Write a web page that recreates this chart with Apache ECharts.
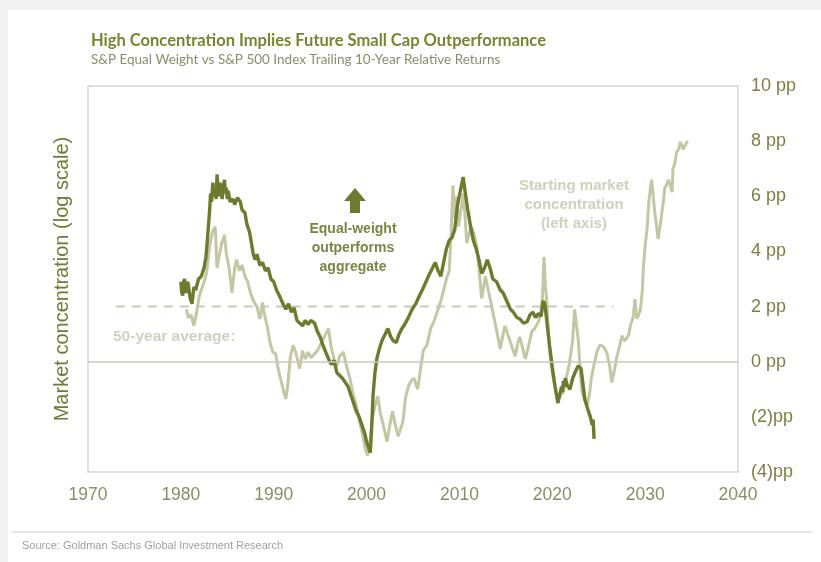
<!DOCTYPE html>
<html>
<head>
<meta charset="utf-8">
<script src="https://cdn.jsdelivr.net/npm/echarts@6/dist/echarts.min.js"></script>
<style>
  html, body { margin: 0; padding: 0; background: #f1f1f1; }
  #chart { width: 821px; height: 562px; }
</style>
</head>
<body>
<div id="chart"></div>
<script>
// S&P Equal Weight vs S&P 500 trailing 10-year relative return (pp)
const ewYears = [1980.0,1980.1,1980.2,1980.3,1980.4,1980.5,1980.6,1980.7,1980.8,1981.0,1981.2,1981.4,1981.6,1981.9,1982.2,1982.5,1982.7,1982.9,1983.1,1983.2,1983.3,1983.45,1983.55,1983.7,1983.8,1983.9,1984.0,1984.1,1984.2,1984.3,1984.45,1984.55,1984.7,1984.8,1984.9,1985.0,1985.1,1985.3,1985.6,1985.8,1986.1,1986.4,1986.6,1986.9,1987.1,1987.4,1987.6,1987.8,1988.0,1988.2,1988.5,1988.8,1989.1,1989.4,1989.7,1990.0,1990.3,1990.6,1991.0,1991.3,1991.6,1991.9,1992.2,1992.5,1992.8,1993.1,1993.4,1993.7,1994.0,1994.4,1994.7,1995.0,1995.3,1995.6,1995.9,1996.2,1996.5,1996.8,1997.1,1997.4,1997.7,1998.0,1998.3,1998.6,1998.9,1999.2,1999.5,1999.8,2000.0,2000.2,2000.4,2000.55,2000.7,2000.9,2001.1,2001.4,2001.7,2002.0,2002.3,2002.6,2002.9,2003.2,2003.5,2003.8,2004.1,2004.5,2004.9,2005.3,2005.7,2006.0,2006.4,2006.8,2007.1,2007.4,2007.7,2008.0,2008.3,2008.6,2008.9,2009.2,2009.5,2009.8,2010.1,2010.4,2010.6,2010.9,2011.2,2011.5,2011.8,2012.1,2012.4,2012.7,2013.0,2013.3,2013.6,2014.0,2014.4,2014.7,2015.1,2015.5,2015.8,2016.2,2016.5,2016.9,2017.3,2017.6,2017.9,2018.2,2018.5,2018.8,2019.0,2019.2,2019.4,2019.7,2020.0,2020.3,2020.6,2020.8,2021.0,2021.1,2021.2,2021.3,2021.4,2021.6,2021.9,2022.2,2022.5,2022.8,2023.1,2023.3,2023.5,2023.8,2024.1,2024.3,2024.4,2024.5];
const ewValues = [2.9,2.5,2.4,2.9,3.0,2.6,2.5,2.9,2.8,2.3,2.1,2.7,2.6,3.0,3.1,3.4,3.8,4.6,5.5,6.1,5.8,6.5,6.0,6.3,5.9,6.8,6.2,6.0,6.5,6.2,5.9,6.3,6.6,6.1,6.3,5.9,6.2,5.8,5.9,5.7,5.95,5.8,5.5,5.4,5.0,4.7,4.3,3.9,3.7,3.9,3.5,3.6,3.3,3.4,3.0,2.9,2.6,2.4,2.1,1.9,2.1,1.8,1.95,1.5,1.4,1.3,1.5,1.35,1.5,1.4,1.1,0.9,0.6,0.35,0.1,-0.1,0.05,-0.4,-0.5,-0.6,-0.75,-0.9,-1.2,-1.5,-1.8,-2.0,-2.3,-2.6,-2.9,-3.1,-3.3,-2.4,-1.2,-0.4,0.1,0.5,0.8,1.0,1.2,0.9,0.75,0.7,1.0,1.2,1.35,1.6,1.9,2.1,2.4,2.6,2.9,3.2,3.4,3.6,3.3,3.1,3.6,4.1,4.4,4.5,4.8,5.7,6.2,6.7,6.2,5.5,4.9,4.4,4.1,3.7,3.2,3.4,3.7,3.4,3.0,2.9,2.6,2.5,2.2,1.9,1.8,1.6,1.55,1.4,1.45,1.7,1.8,1.6,1.75,1.65,2.2,2.1,1.5,0.6,-0.2,-0.9,-1.5,-1.2,-0.9,-1.1,-0.7,-0.9,-0.6,-0.85,-1.0,-0.6,-0.35,-0.15,-0.25,-0.8,-1.35,-1.7,-2.0,-2.3,-2.1,-2.8];

// Starting market concentration, shifted forward ten years
const concYears = [1980.6,1980.8,1981.1,1981.4,1981.7,1982.0,1982.3,1982.6,1982.8,1983.1,1983.4,1983.7,1983.9,1984.1,1984.4,1984.7,1984.9,1985.2,1985.5,1985.8,1986.0,1986.3,1986.6,1986.9,1987.2,1987.5,1987.7,1988.0,1988.2,1988.5,1988.8,1989.0,1989.3,1989.6,1989.9,1990.2,1990.5,1990.8,1991.1,1991.3,1991.5,1991.8,1992.1,1992.4,1992.8,1993.1,1993.4,1993.7,1994.0,1994.3,1994.7,1995.0,1995.3,1995.6,1995.9,1996.2,1996.5,1996.8,1997.1,1997.5,1997.8,1998.2,1998.5,1998.9,1999.2,1999.6,1999.9,2000.1,2000.4,2000.6,2000.9,2001.2,2001.5,2001.8,2002.2,2002.5,2002.8,2003.1,2003.4,2003.7,2003.9,2004.2,2004.5,2004.8,2005.1,2005.5,2005.8,2006.1,2006.5,2006.9,2007.3,2007.6,2008.0,2008.3,2008.6,2008.9,2009.1,2009.3,2009.5,2009.7,2009.9,2010.2,2010.4,2010.6,2010.8,2011.0,2011.3,2011.6,2011.9,2012.2,2012.4,2012.6,2012.8,2013.1,2013.3,2013.6,2013.9,2014.2,2014.4,2014.7,2014.9,2015.2,2015.4,2015.7,2016.0,2016.3,2016.5,2016.8,2017.1,2017.4,2017.8,2018.1,2018.5,2018.8,2018.95,2019.1,2019.25,2019.4,2019.6,2019.8,2020.1,2020.4,2020.6,2020.9,2021.2,2021.5,2021.8,2022.0,2022.2,2022.4,2022.6,2022.8,2023.0,2023.2,2023.5,2023.7,2024.0,2024.2,2024.5,2024.8,2025.1,2025.4,2025.7,2025.9,2026.2,2026.4,2026.7,2026.9,2027.2,2027.5,2027.8,2028.0,2028.2,2028.4,2028.7,2028.9,2029.1,2029.3,2029.5,2029.7,2029.8,2030.0,2030.2,2030.4,2030.6,2030.7,2030.9,2031.0,2031.2,2031.4,2031.6,2031.8,2032.0,2032.1,2032.3,2032.5,2032.7,2032.9,2033.0,2033.2,2033.4,2033.6,2033.8,2034.0,2034.1,2034.3,2034.5,2034.6];
const concValues = [1.9,1.6,1.7,1.3,1.8,2.4,2.7,3.0,3.3,4.2,4.7,4.9,3.4,3.8,4.3,4.6,3.9,3.4,2.5,3.4,3.7,3.3,3.5,3.1,2.9,2.5,2.3,2.1,2.0,1.55,2.15,1.7,1.3,0.7,0.35,0.3,-0.3,-0.7,-1.1,-1.35,-0.9,0.2,0.6,0.3,-0.25,0.4,0.1,0.35,0.15,0.25,0.4,0.6,0.8,1.0,1.2,0.5,0.1,-0.15,0.2,0.35,-0.1,-0.6,-1.1,-1.6,-2.1,-2.7,-3.2,-3.4,-2.8,-2.1,-1.6,-1.25,-1.9,-2.3,-2.9,-2.3,-1.8,-2.3,-2.7,-2.4,-2.2,-1.3,-0.9,-0.7,-0.6,-1.0,-0.3,0.4,0.6,1.2,1.5,1.8,2.2,2.6,3.0,3.3,4.6,6.4,5.2,6.0,4.9,5.6,6.1,5.3,4.3,4.6,4.9,4.6,4.1,3.0,2.3,2.7,3.1,2.6,2.3,1.8,1.3,0.8,0.46,1.0,1.3,1.0,0.8,0.5,0.2,0.7,0.9,0.5,0.1,0.5,1.1,1.2,1.45,1.8,2.4,3.8,2.8,2.2,1.0,0.1,-0.6,-1.1,-1.35,-1.2,-1.1,-0.6,-0.15,0.3,0.8,1.9,1.95,0.8,-0.3,-1.1,-1.4,-1.6,-1.2,-0.6,-0.1,0.35,0.6,0.57,0.45,0.3,-0.2,-0.75,-0.3,0.1,0.5,0.94,0.75,0.7,0.95,1.3,1.6,2.27,1.55,1.7,1.9,2.6,3.36,4.2,4.8,5.8,6.4,6.6,5.9,5.5,5.0,4.45,4.9,5.4,5.9,6.3,6.4,6.6,6.4,6.15,7.0,7.2,7.6,7.7,7.97,7.8,7.7,7.85,7.9,8.0];

// 50-year average concentration reference
const avgYears = [1973, 2026.6];
const avgValue = 2;

// Axis ticks
const yearTicks = [1970, 1980, 1990, 2000, 2010, 2020, 2030, 2040];
const ppTicks = [-4, -2, 0, 2, 4, 6, 8, 10];

const zip = (xs, ys) => xs.map((x, i) => [x, ys[i]]);
const ppLabel = v => (v < 0 ? '(' + (-v) + ')pp' : v + ' pp');

const chart = echarts.init(document.getElementById('chart'), null, { renderer: 'canvas' });

chart.setOption({
  backgroundColor: '#f1f1f1',
  animation: false,
  title: {
    text: 'High Concentration Implies Future Small Cap Outperformance',
    subtext: 'S&P Equal Weight vs S&P 500 Index Trailing 10-Year Relative Returns',
    left: 86,
    top: 27,
    itemGap: 4,
    textStyle: { fontFamily: 'Lato', fontWeight: 'bold', fontSize: 16.5, color: '#75862f' },
    subtextStyle: { fontFamily: 'Lato', fontSize: 13.5, color: '#8b8d6c' }
  },
  graphic: [
    { type: 'rect', z: -10, silent: true, shape: { x: 8, y: 10, width: 813, height: 552 }, style: { fill: '#ffffff' } },
    { type: 'line', silent: true, shape: { x1: 12, y1: 532, x2: 812, y2: 532 }, style: { stroke: '#dcdcdc', lineWidth: 1.5 } },
    { type: 'text', silent: true, left: 22, top: 540, style: { text: 'Source: Goldman Sachs Global Investment Research', font: '11px "Liberation Sans Narrow", "Liberation Sans", sans-serif', fill: '#a0a0a0' } },
    // upward arrow above the annotation
    { type: 'polygon', silent: true, shape: { points: [[355, 188], [366, 201], [360, 201], [360, 213], [350, 213], [350, 201], [344, 201]] }, style: { fill: '#6e7b2f' } },
    { type: 'text', silent: true, x: 353, y: 248, style: { text: 'Equal-weight\noutperforms\naggregate', align: 'center', verticalAlign: 'middle', lineHeight: 19, font: 'bold 14px "Liberation Sans", Arial, sans-serif', fill: '#7b8443' } },
    { type: 'text', silent: true, x: 574, y: 205, style: { text: 'Starting market\nconcentration\n(left axis)', align: 'center', verticalAlign: 'middle', lineHeight: 19, font: 'bold 15px "Liberation Sans", Arial, sans-serif', fill: '#cfd1bd' } },
    { type: 'text', silent: true, x: 113, y: 337, style: { text: '50-year average:', verticalAlign: 'middle', font: 'bold 15.5px "Liberation Sans", Arial, sans-serif', fill: '#d0d1c3' } }
  ],
  grid: {
    left: 88, right: 83, top: 86, bottom: 90,
    show: true, borderColor: '#d6d6d6', borderWidth: 1.5, backgroundColor: 'transparent'
  },
  xAxis: {
    type: 'value', min: yearTicks[0], max: yearTicks[yearTicks.length - 1], interval: 10,
    axisLine: { show: false }, axisTick: { show: false }, splitLine: { show: false },
    axisLabel: { margin: 14, fontSize: 17.5, color: '#8a8c68', fontFamily: '"Liberation Sans", Arial, sans-serif', formatter: v => String(v) }
  },
  yAxis: [
    {
      type: 'value', position: 'left', min: ppTicks[0], max: ppTicks[ppTicks.length - 1], interval: 2,
      name: 'Market concentration (log scale)', nameLocation: 'middle', nameRotate: 90, nameGap: 16,
      nameTextStyle: { fontSize: 20, color: '#6f7a35', fontFamily: '"Liberation Sans", Arial, sans-serif' },
      axisLine: { show: false }, axisTick: { show: false }, splitLine: { show: false }, axisLabel: { show: false }
    },
    {
      type: 'value', position: 'right', min: ppTicks[0], max: ppTicks[ppTicks.length - 1], interval: 2,
      axisLine: { show: false }, axisTick: { show: false }, splitLine: { show: false },
      axisLabel: { margin: 13, fontSize: 18, color: '#7c7f42', fontFamily: '"Liberation Sans", Arial, sans-serif', formatter: ppLabel }
    }
  ],
  series: [
    {
      name: 'Starting market concentration', type: 'line', yAxisIndex: 0,
      data: zip(concYears, concValues), showSymbol: false, z: 2,
      lineStyle: { color: '#c3c7a4', width: 3 },
      markLine: {
        silent: true, symbol: 'none', label: { show: false },
        lineStyle: { color: '#c9c9bd', width: 1.5, type: 'solid' },
        data: [{ yAxis: 0 }]
      }
    },
    {
      name: '50-year average', type: 'line', yAxisIndex: 0,
      data: avgYears.map(y => [y, avgValue]), showSymbol: false, z: 1,
      lineStyle: { color: '#cbcbbd', width: 2, type: [9, 7] }
    },
    {
      name: 'Equal weight relative return', type: 'line', yAxisIndex: 1,
      data: zip(ewYears, ewValues), showSymbol: false, z: 3,
      lineStyle: { color: '#6e7b2f', width: 3.4 }
    }
  ]
});
</script>
</body>
</html>
